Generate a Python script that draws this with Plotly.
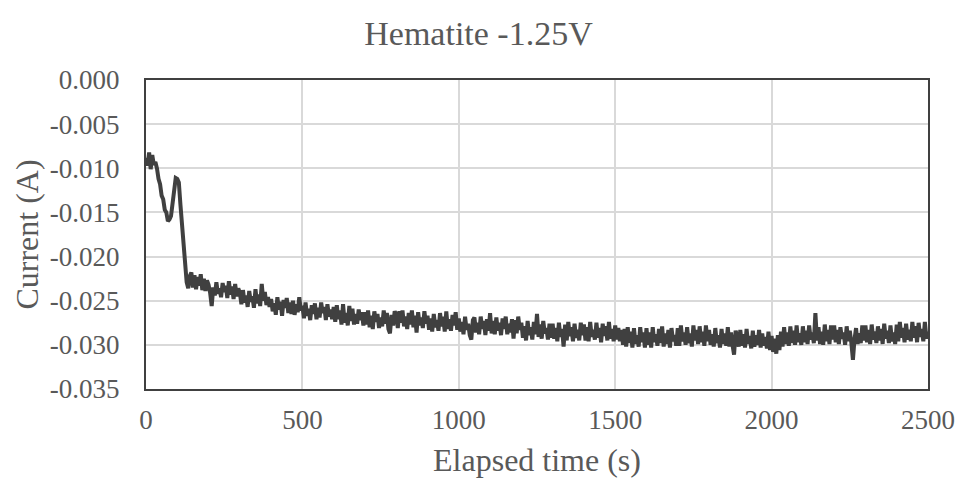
import plotly.graph_objects as go

# Sample times (s), one reading every 5 s
elapsed_s = list(range(0, 2501, 5))

# Current (A), 20 readings per 100 s row
current_A = [
    # 0-95
    -0.0088, -0.0097, -0.0082, -0.0101, -0.0085, -0.0096, -0.0093, -0.0100, -0.0112, -0.0118,
    -0.0131, -0.0135, -0.0147, -0.0150, -0.0160, -0.0158, -0.0154, -0.0137, -0.0128, -0.0111,
    # 100-195
    -0.0112, -0.0116, -0.0141, -0.0163, -0.0192, -0.0210, -0.0229, -0.0236, -0.0222, -0.0218,
    -0.0235, -0.0221, -0.0237, -0.0223, -0.0233, -0.0220, -0.0238, -0.0225, -0.0239, -0.0227,
    # 200-295
    -0.0232, -0.0241, -0.0256, -0.0235, -0.0244, -0.0229, -0.0242, -0.0236, -0.0246, -0.0230,
    -0.0240, -0.0233, -0.0247, -0.0228, -0.0243, -0.0234, -0.0248, -0.0231, -0.0245, -0.0236,
    # 300-395
    -0.0241, -0.0254, -0.0238, -0.0252, -0.0244, -0.0257, -0.0239, -0.0251, -0.0245, -0.0258,
    -0.0237, -0.0253, -0.0243, -0.0256, -0.0231, -0.0250, -0.0240, -0.0255, -0.0246, -0.0257,
    # 400-495
    -0.0248, -0.0262, -0.0253, -0.0266, -0.0246, -0.0260, -0.0251, -0.0267, -0.0249, -0.0258,
    -0.0247, -0.0264, -0.0252, -0.0265, -0.0250, -0.0266, -0.0254, -0.0263, -0.0246, -0.0261,
    # 500-595
    -0.0256, -0.0270, -0.0252, -0.0267, -0.0259, -0.0272, -0.0255, -0.0265, -0.0253, -0.0271,
    -0.0258, -0.0269, -0.0252, -0.0264, -0.0257, -0.0272, -0.0254, -0.0268, -0.0260, -0.0271,
    # 600-695
    -0.0257, -0.0274, -0.0255, -0.0271, -0.0261, -0.0277, -0.0254, -0.0275, -0.0264, -0.0278,
    -0.0256, -0.0273, -0.0259, -0.0277, -0.0265, -0.0276, -0.0260, -0.0272, -0.0263, -0.0278,
    # 700-795
    -0.0263, -0.0277, -0.0261, -0.0280, -0.0267, -0.0282, -0.0262, -0.0274, -0.0265, -0.0281,
    -0.0269, -0.0279, -0.0261, -0.0276, -0.0264, -0.0282, -0.0287, -0.0266, -0.0278, -0.0262,
    # 800-895
    -0.0266, -0.0281, -0.0262, -0.0275, -0.0261, -0.0279, -0.0268, -0.0282, -0.0264, -0.0277,
    -0.0261, -0.0280, -0.0267, -0.0286, -0.0263, -0.0278, -0.0269, -0.0281, -0.0262, -0.0276,
    # 900-995
    -0.0267, -0.0283, -0.0270, -0.0285, -0.0265, -0.0280, -0.0272, -0.0284, -0.0264, -0.0279,
    -0.0268, -0.0285, -0.0262, -0.0282, -0.0271, -0.0284, -0.0266, -0.0278, -0.0263, -0.0283,
    # 1000-1095
    -0.0270, -0.0285, -0.0274, -0.0288, -0.0268, -0.0283, -0.0276, -0.0289, -0.0294, -0.0272,
    -0.0269, -0.0286, -0.0275, -0.0288, -0.0268, -0.0282, -0.0273, -0.0289, -0.0271, -0.0284,
    # 1100-1195
    -0.0264, -0.0287, -0.0273, -0.0288, -0.0269, -0.0284, -0.0275, -0.0289, -0.0270, -0.0282,
    -0.0268, -0.0288, -0.0276, -0.0286, -0.0271, -0.0293, -0.0272, -0.0287, -0.0268, -0.0283,
    # 1200-1295
    -0.0275, -0.0292, -0.0279, -0.0295, -0.0273, -0.0289, -0.0280, -0.0294, -0.0274, -0.0288,
    -0.0265, -0.0291, -0.0277, -0.0293, -0.0273, -0.0287, -0.0281, -0.0294, -0.0276, -0.0292,
    # 1300-1395
    -0.0276, -0.0293, -0.0281, -0.0296, -0.0275, -0.0291, -0.0282, -0.0302, -0.0277, -0.0295,
    -0.0274, -0.0290, -0.0280, -0.0296, -0.0276, -0.0292, -0.0283, -0.0295, -0.0275, -0.0289,
    # 1400-1495
    -0.0277, -0.0295, -0.0280, -0.0296, -0.0274, -0.0291, -0.0283, -0.0294, -0.0275, -0.0292,
    -0.0281, -0.0297, -0.0276, -0.0290, -0.0279, -0.0295, -0.0274, -0.0293, -0.0282, -0.0296,
    # 1500-1595
    -0.0278, -0.0294, -0.0281, -0.0296, -0.0283, -0.0300, -0.0282, -0.0302, -0.0280, -0.0298,
    -0.0285, -0.0303, -0.0281, -0.0299, -0.0289, -0.0302, -0.0280, -0.0297, -0.0286, -0.0303,
    # 1600-1695
    -0.0281, -0.0300, -0.0286, -0.0303, -0.0280, -0.0297, -0.0288, -0.0301, -0.0282, -0.0298,
    -0.0279, -0.0302, -0.0287, -0.0299, -0.0283, -0.0303, -0.0281, -0.0296, -0.0289, -0.0301,
    # 1700-1795
    -0.0281, -0.0301, -0.0278, -0.0296, -0.0286, -0.0300, -0.0280, -0.0298, -0.0287, -0.0302,
    -0.0278, -0.0295, -0.0283, -0.0299, -0.0279, -0.0297, -0.0285, -0.0301, -0.0278, -0.0296,
    # 1800-1895
    -0.0283, -0.0300, -0.0288, -0.0302, -0.0281, -0.0298, -0.0289, -0.0303, -0.0282, -0.0299,
    -0.0287, -0.0301, -0.0280, -0.0302, -0.0286, -0.0300, -0.0311, -0.0284, -0.0290, -0.0302,
    # 1900-1995
    -0.0283, -0.0301, -0.0288, -0.0303, -0.0282, -0.0299, -0.0290, -0.0304, -0.0284, -0.0302,
    -0.0289, -0.0300, -0.0283, -0.0303, -0.0287, -0.0301, -0.0291, -0.0304, -0.0285, -0.0306,
    # 2000-2095
    -0.0290, -0.0308, -0.0293, -0.0310, -0.0289, -0.0306, -0.0285, -0.0302, -0.0280, -0.0299,
    -0.0286, -0.0301, -0.0279, -0.0298, -0.0284, -0.0300, -0.0278, -0.0297, -0.0287, -0.0300,
    # 2100-2195
    -0.0279, -0.0297, -0.0284, -0.0299, -0.0278, -0.0294, -0.0286, -0.0298, -0.0264, -0.0295,
    -0.0280, -0.0299, -0.0285, -0.0300, -0.0277, -0.0296, -0.0283, -0.0299, -0.0278, -0.0294,
    # 2200-2295
    -0.0278, -0.0297, -0.0283, -0.0299, -0.0280, -0.0293, -0.0286, -0.0300, -0.0279, -0.0296,
    -0.0284, -0.0298, -0.0317, -0.0294, -0.0281, -0.0299, -0.0287, -0.0298, -0.0278, -0.0295,
    # 2300-2395
    -0.0278, -0.0297, -0.0283, -0.0299, -0.0277, -0.0294, -0.0285, -0.0298, -0.0279, -0.0295,
    -0.0282, -0.0299, -0.0276, -0.0293, -0.0284, -0.0298, -0.0278, -0.0296, -0.0286, -0.0299,
    # 2400-2495
    -0.0277, -0.0296, -0.0274, -0.0292, -0.0281, -0.0297, -0.0276, -0.0294, -0.0283, -0.0296,
    -0.0274, -0.0292, -0.0279, -0.0297, -0.0275, -0.0291, -0.0282, -0.0296, -0.0274, -0.0293,
    # 2500
    -0.0285,
]

x_tick_vals = [0, 500, 1000, 1500, 2000, 2500]
x_tick_text = ["0", "500", "1000", "1500", "2000", "2500"]
y_tick_vals = [0.0, -0.005, -0.010, -0.015, -0.020, -0.025, -0.030, -0.035]
y_tick_text = ["0.000", "-0.005", "-0.010", "-0.015", "-0.020", "-0.025", "-0.030", "-0.035"]

FONT = "Liberation Serif, Times New Roman, serif"
TEXT = "#595959"
GRID = "#d9d9d9"
FRAME = "#404040"

fig = go.Figure(
    go.Scatter(
        x=elapsed_s,
        y=current_A,
        mode="lines",
        line=dict(color="#404040", width=4),
        showlegend=False,
    )
)

fig.update_layout(
    width=957,
    height=478,
    margin=dict(l=146, r=29, t=80, b=89),
    paper_bgcolor="white",
    plot_bgcolor="white",
    font=dict(family=FONT, color=TEXT),
    title=dict(
        text="Hematite -1.25V",
        x=0.5,
        xref="container",
        xanchor="center",
        y=1 - 33 / 478,
        yref="container",
        yanchor="middle",
        automargin=False,
        font=dict(family=FONT, size=34, color=TEXT),
    ),
)

fig.update_xaxes(
    range=[0, 2500],
    tickvals=x_tick_vals,
    ticktext=x_tick_text,
    tickfont=dict(family=FONT, size=27, color=TEXT),
    ticks="outside",
    ticklen=6,
    tickcolor="rgba(0,0,0,0)",
    showgrid=True,
    gridcolor=GRID,
    gridwidth=1.5,
    showline=True,
    linecolor=FRAME,
    linewidth=2,
    mirror=True,
    zeroline=False,
    automargin=False,
    title=dict(
        text="Elapsed time (s)",
        font=dict(family=FONT, size=32, color=TEXT),
        standoff=15,
    ),
)

fig.update_yaxes(
    range=[-0.035, 0],
    tickvals=y_tick_vals,
    ticktext=y_tick_text,
    tickfont=dict(family=FONT, size=27, color=TEXT),
    ticks="outside",
    ticklen=19,
    tickcolor="rgba(0,0,0,0)",
    showgrid=True,
    gridcolor=GRID,
    gridwidth=1.5,
    showline=True,
    linecolor=FRAME,
    linewidth=2,
    mirror=True,
    zeroline=False,
    automargin=False,
    title=dict(
        text="Current (A)",
        font=dict(family=FONT, size=32, color=TEXT),
        standoff=2,
    ),
)

# Remove the default page margin so the 957x478 figure fills the window exactly
fig.write_html(
    "out.html",
    config={"displayModeBar": False},
    post_script="document.body.style.margin='0';",
)
